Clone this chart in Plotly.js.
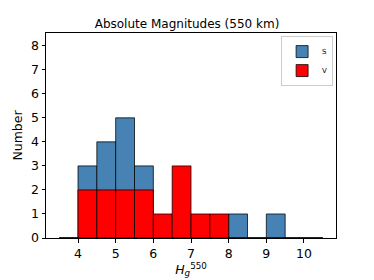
<!DOCTYPE html>
<html>
<head>
<meta charset="utf-8">
<script src="https://cdn.plot.ly/plotly-3.0.1.min.js"></script>
<style>html,body{margin:0;padding:0;background:#fff;}#chart{width:374px;height:280px;}</style>
</head>
<body>
<div id="chart"></div>
<script>
// Bin centres (bin width 0.5, edges 3.5 ... 10.5)
const binCenters = [3.75, 4.25, 4.75, 5.25, 5.75, 6.25, 6.75, 7.25, 7.75, 8.25, 8.75, 9.25, 9.75, 10.25];
const countsS = [0, 3, 4, 5, 3, 0, 0, 0, 0, 1, 0, 1, 0, 0];
const countsV = [0, 2, 2, 2, 2, 1, 3, 1, 1, 0, 0, 0, 0, 0];
const xTicks = [4, 5, 6, 7, 8, 9, 10];
const yTicks = [0, 1, 2, 3, 4, 5, 6, 7, 8];

const edge = {color: 'rgba(0,0,0,0.75)', width: 1};
const traces = [
  {type: 'bar', name: 'S', x: binCenters, y: countsS, width: 0.5,
   marker: {color: '#4682b4', line: edge}},
  {type: 'bar', name: 'V', x: binCenters, y: countsV, width: 0.5,
   marker: {color: '#ff0000', line: edge}}
];
const font = {family: 'DejaVu Sans, sans-serif', color: '#000'};
const layout = {
  width: 374, height: 280,
  margin: {l: 46, r: 38, t: 33, b: 42},
  barmode: 'overlay',
  paper_bgcolor: '#fff', plot_bgcolor: '#fff',
  font: font,
  title: {text: 'Absolute Magnitudes (550 km)', font: {size: 12, family: font.family, color: '#000'}, x: 0.5, xanchor: 'center', y: 0.915, yanchor: 'middle'},
  xaxis: {range: [3.15, 10.85], tickvals: xTicks, ticktext: xTicks.map(String),
    showgrid: false, zeroline: false, showline: true, linecolor: '#000', linewidth: 1, mirror: true,
    ticks: 'outside', ticklen: 3.5, tickcolor: '#000', tickfont: {size: 12.5, family: font.family, color: '#000'},
    title: {text: '<i>H</i><sub><i>g</i></sub><sup>550</sup>', font: {size: 12.5, family: font.family, color: '#000'}, standoff: 2}},
  yaxis: {range: [0, 8.53], tickvals: yTicks, ticktext: yTicks.map(String),
    showgrid: false, zeroline: false, showline: true, linecolor: '#000', linewidth: 1, mirror: true,
    ticks: 'outside', ticklen: 3.5, tickcolor: '#000', tickfont: {size: 12.5, family: font.family, color: '#000'},
    title: {text: 'Number', font: {size: 12.5, family: font.family, color: '#000'}, standoff: 5}},
  legend: {x: 0.99, y: 0.985, xanchor: 'right', yanchor: 'top', bgcolor: 'rgba(255,255,255,0.8)',
    bordercolor: '#ccc', borderwidth: 1, font: {size: 7, family: font.family, color: '#000'},
    itemwidth: 30, tracegroupgap: 0},
  showlegend: true
};
Plotly.newPlot('chart', traces, layout, {displayModeBar: false, staticPlot: true});
</script>
</body>
</html>
